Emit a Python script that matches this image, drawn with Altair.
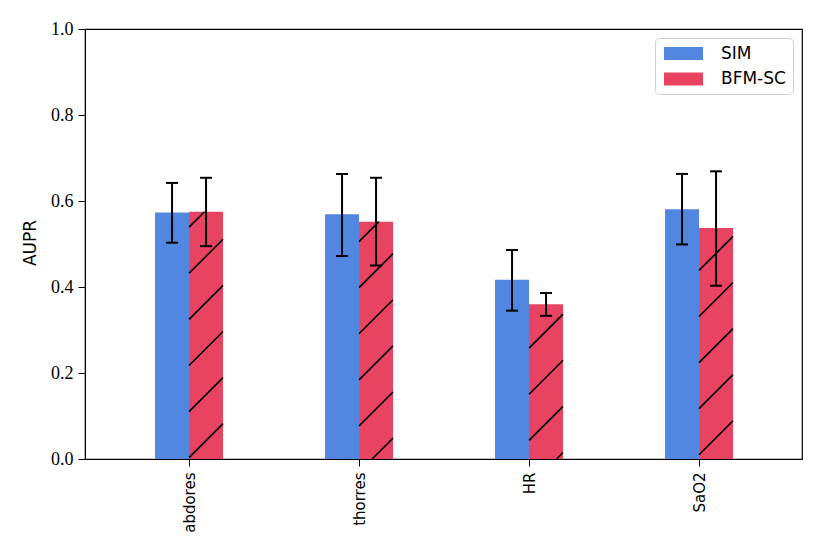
import json
import altair as alt
import pandas as pd

# ---------------- data ----------------
categories = ["abdores", "thorres", "HR", "SaO2"]
series = ["SIM", "BFM-SC"]
sim_mean = [0.573, 0.569, 0.417, 0.581]
sim_low = [0.503, 0.472, 0.345, 0.499]
sim_high = [0.642, 0.663, 0.486, 0.663]
bfm_mean = [0.575, 0.552, 0.360, 0.537]
bfm_low = [0.495, 0.450, 0.333, 0.403]
bfm_high = [0.654, 0.654, 0.386, 0.669]
y_ticks = [0.0, 0.2, 0.4, 0.6, 0.8, 1.0]

# ---------------- layout / style ----------------
W, H = 717, 430
PAD_L, PAD_T, PAD_R, PAD_B = 77, 21, 20, 80
XMIN = -0.612
XMAX = XMIN + W / 170.0
BAR_W = 0.2
BLUE = "#5287E1"
RED = "#E84360"
HATCH_STEP = 46.1      # px between hatch lines (vertical distance)
HATCH_PHASE = 646.7    # page x + page y of one hatch line
SERIF = "Liberation Serif"
SANS = "DejaVu Sans"

rows = []
for i, cat in enumerate(categories):
    for s, means, lows, highs, off in (
        (series[0], sim_mean, sim_low, sim_high, -BAR_W),
        (series[1], bfm_mean, bfm_low, bfm_high, 0.0),
    ):
        x0 = i + off
        rows.append(dict(category=cat, series=s, x0=x0, x1=x0 + BAR_W,
                         xc=x0 + BAR_W / 2, mean=means[i], low=lows[i],
                         high=highs[i], base=0.0))
df = pd.DataFrame(rows)

# hatch segments for the BFM-SC bars (clipped to each bar)
sx = W / (XMAX - XMIN)
sy = H / 1.0
ox, oy = 8 + PAD_L, 8 + PAD_T
hatch = []
for r in rows:
    if r["series"] != series[1]:
        continue
    px0 = (r["x0"] - XMIN) * sx
    px1 = (r["x1"] - XMIN) * sx
    pyt = (1 - r["mean"]) * sy
    pyb = H
    lo = px0 + pyt + ox + oy
    hi = px1 + pyb + ox + oy
    k = int((lo - HATCH_PHASE) // HATCH_STEP) - 1
    while True:
        c = HATCH_PHASE + k * HATCH_STEP
        k += 1
        if c > hi + HATCH_STEP:
            break
        cp = c - ox - oy
        pa = max(px0, cp - pyb)
        pb = min(px1, cp - pyt)
        if pb - pa <= 0.3:
            continue
        hatch.append(dict(hx0=XMIN + pa / sx, hy0=1 - (cp - pa) / sy,
                          hx1=XMIN + pb / sx, hy1=1 - (cp - pb) / sy))
hdf = pd.DataFrame(hatch)

label_expr = json.dumps(categories) + "[datum.value]"

xscale = alt.Scale(domain=[XMIN, XMAX], nice=False, zero=False)
yscale = alt.Scale(domain=[0, 1], nice=False)

x_axis = alt.Axis(values=[0, 1, 2, 3], labelExpr=label_expr, labelAngle=270,
                  labelAlign="right", labelBaseline="middle", grid=False,
                  labelFont=SANS, labelFontSize=15, title=None)
y_axis = alt.Axis(values=y_ticks, format=".1f", grid=False, title="AUPR",
                  labelFont=SERIF, labelFontSize=18,
                  titleAngle=270, titleX=-54.5, titleY=213.5,
                  titleAlign="center", titleBaseline="middle")

base = alt.Chart(df)

bars = base.mark_rect().encode(
    x=alt.X("x0:Q", scale=xscale, axis=x_axis),
    x2="x1",
    y=alt.Y("mean:Q", scale=yscale, axis=y_axis),
    y2="base",
    color=alt.Color("series:N", scale=alt.Scale(domain=series, range=[BLUE, RED]),
                    legend=alt.Legend(title=None, orient="top-right", offset=9)),
)

hatch_layer = alt.Chart(hdf).mark_rule(color="black", strokeWidth=1.6).encode(
    x=alt.X("hx0:Q", scale=xscale), x2="hx1",
    y=alt.Y("hy0:Q", scale=yscale), y2="hy1",
)

err = base.mark_rule(color="black", strokeWidth=2).encode(
    x=alt.X("xc:Q", scale=xscale),
    y=alt.Y("low:Q", scale=yscale), y2="high",
)
cap_low = base.mark_tick(color="black", orient="horizontal", size=12,
                         thickness=2, opacity=1).encode(
    x=alt.X("xc:Q", scale=xscale),
    y=alt.Y("low:Q", scale=yscale),
)
cap_high = base.mark_tick(color="black", orient="horizontal", size=12,
                          thickness=2, opacity=1).encode(
    x=alt.X("xc:Q", scale=xscale),
    y=alt.Y("high:Q", scale=yscale),
)

chart = alt.layer(bars, hatch_layer, err, cap_low, cap_high).properties(
    width=W, height=H,
    autosize=alt.AutoSizeParams(type="none"),
    padding={"left": PAD_L, "top": PAD_T, "right": PAD_R, "bottom": PAD_B},
).configure_view(
    stroke="black", strokeWidth=1.2
).configure_axis(
    tickSize=7, tickColor="black", domainColor="black", labelColor="black",
    titleColor="black",
).configure_axisX(
    labelFont=SANS, labelFontSize=15, labelPadding=6,
).configure_axisY(
    labelFont=SERIF, labelFontSize=18, labelPadding=5,
    titleFont=SANS, titleFontSize=17, titleFontWeight="normal",
).configure_legend(
    fillColor="white", strokeColor="#d0d0d0", cornerRadius=4, padding=7,
    symbolType="M-3,-1H3V1H-3Z", symbolSize=169, symbolStrokeWidth=0,
    symbolOpacity=1, symbolOffset=13, labelFont=SANS, labelFontSize=17,
    labelColor="black", labelOffset=29, rowPadding=7.5,
)

chart.save("out.html", embed_options={"renderer": "svg", "actions": False})
